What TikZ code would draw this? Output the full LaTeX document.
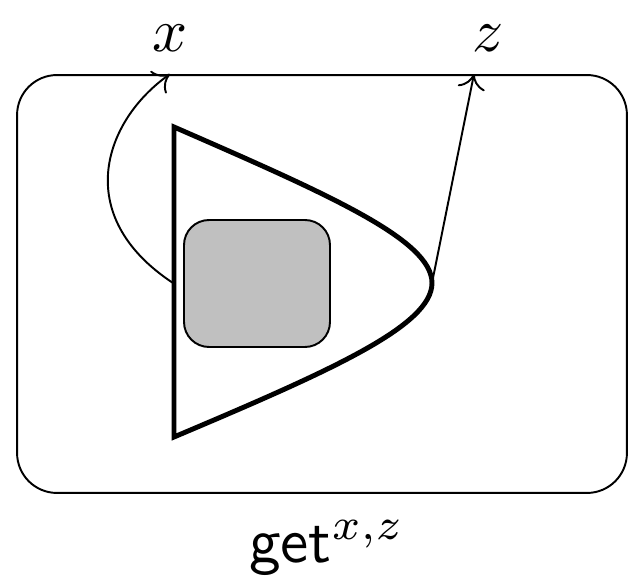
\documentclass[tikz,border=0pt]{standalone}
\usetikzlibrary{arrows.meta, positioning, calc}
\definecolor{relleno}{RGB}{192,192,192}

\begin{document}
\begin{tikzpicture}[x=0.02cm, y=-0.02cm,
  marco/.style={draw, line width=1.1pt, rounded corners=0.8cm,
                minimum width=12.2cm, minimum height=8.36cm},
  bloque/.style={draw, line width=1.1pt, fill=relleno, rounded corners=0.5cm,
                 minimum width=2.92cm, minimum height=2.54cm},
  grueso/.style={line width=2.8pt, line join=miter},
  flecha/.style={-{To[length=3mm, width=5.5mm]}, line width=1.1pt},
  etiqueta/.style={scale=3.5}
]
\useasboundingbox (0,0) rectangle (643,587);
\node[marco] (caja) at (322,284) {};
\node[etiqueta] (lx) at (170,38) {$x$};
\node[etiqueta] (lz) at (488,38) {$z$};
\node[etiqueta, scale=1.03] (nombre) at (327,548) {$\mathsf{get}^{x,z}$};

\coordinate (arriba) at (174,127);
\coordinate (abajo) at (174,437);
\coordinate (punta) at (432,283);
\coordinate (lado) at (173,283);
\coordinate (sx) at (lx |- caja.north);
\coordinate (sz) at ($(lz |- caja.north)+(-14,0)$);

% the triangle-like body with its curved side
\draw[grueso] (abajo) -- (arriba)
  .. controls (330,195) and (432,240) .. (punta)
  .. controls (432,326) and (330,371) .. (abajo) -- cycle;
\node[bloque] (gris) at (257,283.5) {};

\draw[flecha] (lado) .. controls (70,215) and (105,120) .. (sx);
\draw[flecha] (punta) -- (sz);
\end{tikzpicture}
\end{document}
